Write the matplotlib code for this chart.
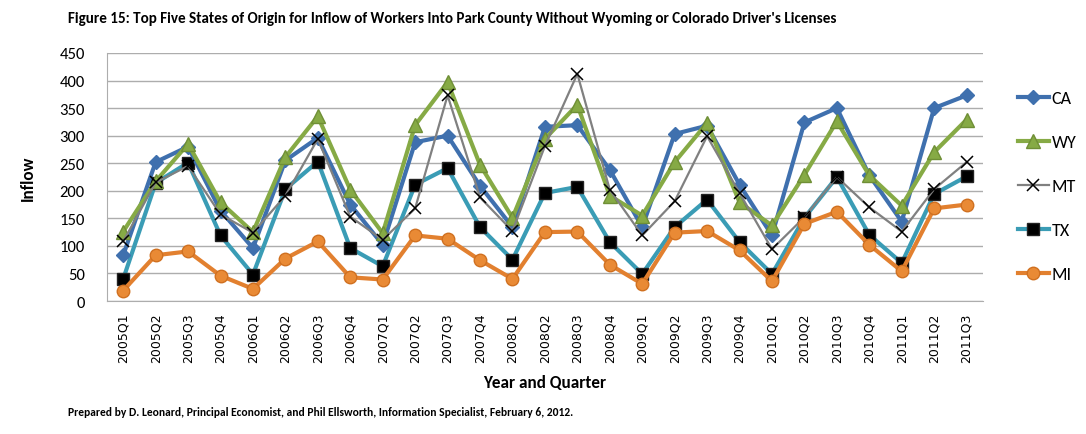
import matplotlib
matplotlib.use("Agg")
import matplotlib.pyplot as plt
import numpy as np

quarters = ["2005Q1", "2005Q2", "2005Q3", "2005Q4",
            "2006Q1", "2006Q2", "2006Q3", "2006Q4",
            "2007Q1", "2007Q2", "2007Q3", "2007Q4",
            "2008Q1", "2008Q2", "2008Q3", "2008Q4",
            "2009Q1", "2009Q2", "2009Q3", "2009Q4",
            "2010Q1", "2010Q2", "2010Q3", "2010Q4",
            "2011Q1", "2011Q2", "2011Q3"]

ca = [83, 252, 280, 164, 96, 255, 296, 175, 102, 288, 300, 209, 134, 316, 319, 238,
      134, 303, 318, 211, 119, 324, 350, 228, 144, 350, 373]
wy = [126, 217, 285, 179, 125, 261, 335, 202, 123, 319, 397, 247, 151, 294, 356, 191,
      155, 252, 323, 179, 137, 229, 326, 228, 173, 270, 329]
mt = [108, 215, 245, 157, 124, 191, 294, 153, 111, 168, 373, 188, 127, 281, 412, 202,
      119, 181, 299, 196, 94, 152, 225, 170, 126, 203, 252]
tx = [40, 214, 251, 119, 48, 203, 253, 96, 63, 211, 241, 134, 75, 196, 207, 107,
      49, 134, 184, 107, 49, 151, 225, 120, 69, 194, 226]
mi = [19, 83, 90, 46, 22, 77, 108, 43, 39, 119, 113, 74, 40, 125, 126, 66,
      31, 124, 127, 92, 36, 140, 162, 102, 54, 168, 175]

series_names = ["CA", "WY", "MT", "TX", "MI"]

LAB = ["Carlito", "Liberation Sans", "DejaVu Sans"]

fig = plt.figure(figsize=(10.86, 4.35), dpi=100)
ax = fig.add_axes([0.0985, 0.3057, 0.8065, 0.5703])

x = np.arange(len(quarters))
grid_c = "#ADADAD"

ax.plot(x, ca, color="#3F70AE", lw=3.0, marker="D", ms=7, mfc="#3F70AE", mec="#3F70AE", label=series_names[0], zorder=3)
ax.plot(x, wy, color="#86AA45", lw=3.0, marker="^", ms=10, mfc="#86AA45", mec="#6F8F36", label=series_names[1], zorder=4)
ax.plot(x, mt, color="#808080", lw=1.6, marker="x", ms=8, mfc="black", mec="black", mew=1.1, label=series_names[2], zorder=5)
ax.plot(x, tx, color="#3A9CB5", lw=3.0, marker="s", ms=9, mfc="black", mec="#222222", label=series_names[3], zorder=2)
ax.plot(x, mi, color="#E2802F", lw=3.0, marker="o", ms=9, mfc="#E98A35", mec="#D07020", label=series_names[4], zorder=6)

ax.set_xlim(-0.5, len(quarters) - 0.5)
ax.set_ylim(0, 450)
ax.set_yticks(np.arange(0, 451, 50))
ax.yaxis.grid(True, color=grid_c, lw=1.0)
ax.set_axisbelow(True)
ax.set_xticks(x)
ax.set_xticklabels(quarters, rotation=90, fontsize=9, family="DejaVu Sans")
for lab in ax.get_yticklabels():
    lab.set_fontsize(12)
    lab.set_family(LAB)
ax.tick_params(axis="both", length=0)
ax.tick_params(axis="y", pad=16)
ax.tick_params(axis="x", pad=8)
for s in ["top", "right"]:
    ax.spines[s].set_visible(False)
ax.spines["left"].set_color(grid_c)
ax.spines["bottom"].set_color(grid_c)

ax.set_ylabel("Inflow", fontsize=12.3, fontweight="bold", family=LAB, labelpad=17)
ax.set_xlabel("Year and Quarter", fontsize=12.3, fontweight="bold", family=LAB, labelpad=9)

leg = fig.legend(loc="upper left", bbox_to_anchor=(0.922, 0.828), frameon=False,
                 labelspacing=1.55, handlelength=1.75, handletextpad=0.15,
                 prop={"family": LAB, "size": 13})

fig.text(0.0625, 0.957, "Figure 15: Top Five States of Origin for Inflow of Workers Into Park County Without Wyoming or Colorado Driver's Licenses",
         fontsize=10.9, fontweight="bold", family=LAB, ha="left", va="center")
fig.text(0.0625, 0.052, "Prepared by D. Leonard, Principal Economist, and Phil Ellsworth, Information Specialist, February 6, 2012.",
         fontsize=8.3, fontweight="bold", family=LAB, ha="left", va="center")

fig.savefig("out.png", dpi=100)
